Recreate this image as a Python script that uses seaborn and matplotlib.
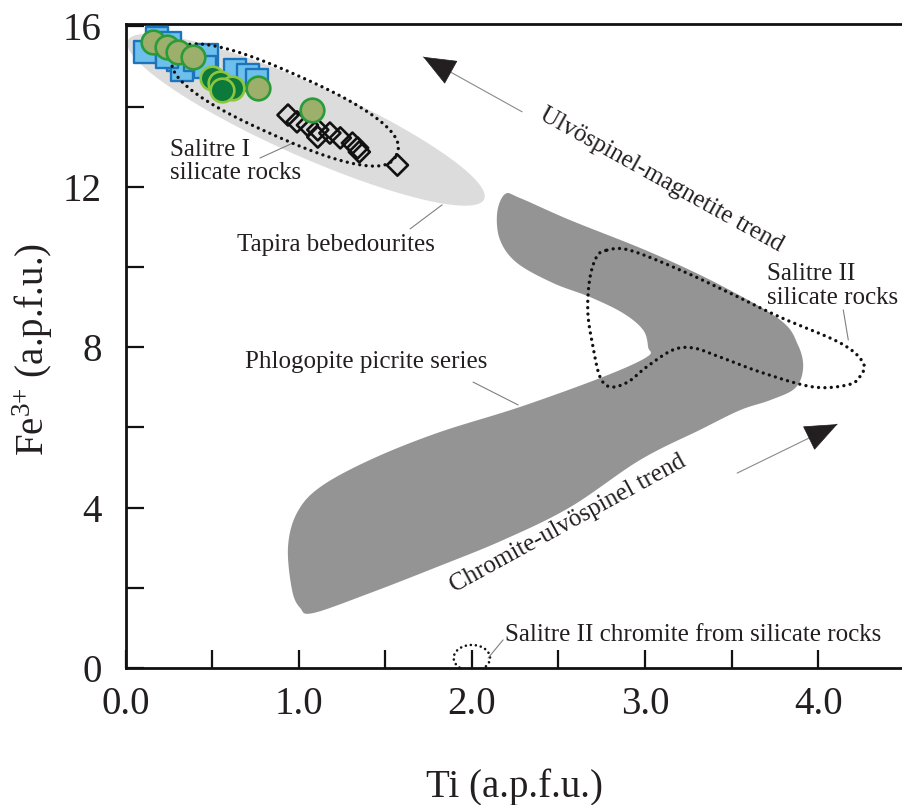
import numpy as np
import pandas as pd
import matplotlib
matplotlib.use("Agg")
import matplotlib.pyplot as plt
from matplotlib.patches import Polygon, Ellipse
import seaborn as sns

# ---------------- data ----------------
blue_ti = [0.112, 0.181, 0.256, 0.303, 0.326, 0.401, 0.470, 0.459, 0.632, 0.707, 0.759, 0.239]
blue_fe = [15.36, 15.71, 15.59, 15.16, 14.91, 15.16, 15.29, 14.99, 14.91, 14.79, 14.66, 15.24]

olive_ti = [0.159, 0.239, 0.303, 0.390, 0.765, 1.078]
olive_fe = [15.61, 15.49, 15.36, 15.24, 14.46, 13.92]

dkgreen_ti = [0.500, 0.546, 0.615, 0.557]
dkgreen_fe = [14.71, 14.59, 14.46, 14.41]

diam_ti = [0.938, 0.99, 1.05, 1.11, 1.11, 1.18, 1.24, 1.31, 1.34, 1.35, 1.57]
diam_fe = [13.79, 13.62, 13.54, 13.42, 13.24, 13.34, 13.22, 13.09, 12.97, 12.87, 12.54]

# Phlogopite picrite series field outline
picrite_ti = [2.192, 2.278, 2.567, 3.030, 3.434, 3.781, 3.884, 3.913, 3.867, 3.723, 3.549, 3.318,
              2.972, 2.567, 2.180, 1.799, 1.412, 1.083, 1.008, 0.961, 0.938, 0.990, 1.123, 1.412,
              1.799, 2.278, 2.758, 3.012, 3.018, 2.989, 2.873, 2.683, 2.469, 2.261, 2.163, 2.146]
picrite_fe = [11.82, 11.72, 11.17, 10.37, 9.55, 8.68, 8.05, 7.48, 6.98, 6.68, 6.43, 5.94,
              5.19, 4.01, 3.19, 2.52, 1.87, 1.37, 1.50, 1.95, 3.02, 3.87, 4.51, 5.19,
              5.86, 6.51, 7.26, 7.76, 8.00, 8.43, 8.85, 9.25, 9.60, 10.10, 10.67, 11.35]

# Salitre II silicate rocks field outline
sal2_ti = [2.78, 2.91, 3.20, 3.49, 3.78, 4.13, 4.26, 4.24, 4.17, 3.97, 3.68, 3.43, 3.28, 3.16,
           3.01, 2.90, 2.80, 2.74, 2.70, 2.67, 2.68, 2.72]
sal2_fe = [10.42, 10.42, 9.93, 9.35, 8.75, 8.10, 7.61, 7.26, 7.06, 7.01, 7.36, 7.76, 7.98, 7.93,
           7.51, 7.13, 7.01, 7.26, 8.00, 8.85, 9.68, 10.25]

# Elliptical fields: centre (Ti, Fe3+)
tapira_center = (1.042, 13.67)
salitre1_center = (0.921, 14.04)
chromite_center = (2.0, 0.25)

x_ticks = [0, 1, 2, 3, 4]
x_labels = ["0.0", "1.0", "2.0", "3.0", "4.0"]
y_ticks = [0, 4, 8, 12, 16]
y_labels = ["0", "4", "8", "12", "16"]

# ---------------- style ----------------
sns.set_theme(style="ticks")
plt.rcParams["font.family"] = ["Liberation Serif", "DejaVu Serif"]
plt.rcParams["mathtext.fontset"] = "custom"
plt.rcParams["mathtext.rm"] = "Liberation Serif"
plt.rcParams["mathtext.default"] = "regular"

W, H = 903, 805
fig = plt.figure(figsize=(W / 100, H / 100), dpi=100)
ax = fig.add_axes([125.6 / W, 137 / H, (W - 125.6) / W, 644 / H])
XMAX, YMAX = 4.49, 16.06
ax.set_xlim(0, XMAX)
ax.set_ylim(0, YMAX)
SX = (W - 125.6) / XMAX   # px per Ti unit
SY = 644 / YMAX           # px per Fe unit


def smooth_closed(x, y, n=14):
    P = np.column_stack([x, y])
    N = len(P)
    out = []
    t = np.linspace(0, 1, n, endpoint=False)[:, None]
    for i in range(N):
        p0, p1, p2, p3 = P[i - 1], P[i], P[(i + 1) % N], P[(i + 2) % N]
        pts = 0.5 * ((2 * p1) + (-p0 + p2) * t + (2 * p0 - 5 * p1 + 4 * p2 - p3) * t ** 2
                     + (-p0 + 3 * p1 - 3 * p2 + p3) * t ** 3)
        out.append(pts)
    return np.vstack(out)


def superellipse(center, a, b, ang, n=2.0, m=240):
    t = np.linspace(0, 2 * np.pi, m)
    c, s = np.cos(t), np.sin(t)
    u = a * np.sign(c) * np.abs(c) ** (2 / n)
    v = b * np.sign(s) * np.abs(s) ** (2 / n)
    th = np.deg2rad(ang)
    X = u * np.cos(th) - v * np.sin(th)
    Y = u * np.sin(th) + v * np.cos(th)
    return np.column_stack([center[0] + X / SX, center[1] + Y / SY])


dot_ls = (0, (0.01, 1.9))

# Tapira bebedourites (light grey)
ax.add_patch(Polygon(superellipse(tapira_center, 195, 36, -24), closed=True,
                     facecolor="#dcdcdc", edgecolor="none", zorder=1))
# Phlogopite picrite series (dark grey)
ax.add_patch(Polygon(smooth_closed(picrite_ti, picrite_fe), closed=True,
                     facecolor="#949494", edgecolor="none", zorder=1.5))
# Salitre II dotted field
ax.add_patch(Polygon(smooth_closed(sal2_ti, sal2_fe), closed=True, facecolor="none",
                     edgecolor="#111111", lw=2.4, linestyle=dot_ls, capstyle="round", zorder=2))
# small dotted ellipse (chromite)
ax.add_patch(Ellipse(chromite_center, 0.21, 0.65, facecolor="none", edgecolor="#111111",
                     lw=1.9, linestyle=dot_ls, capstyle="round", zorder=2))

# markers
sns.scatterplot(x=blue_ti, y=blue_fe, marker="s", s=235, color="#6dc0ec",
                edgecolor="#1c74bc", linewidth=1.7, ax=ax, zorder=3)
sns.scatterplot(x=diam_ti, y=diam_fe, marker="D", s=115, color="#ffffff",
                edgecolor="#111111", linewidth=1.9, ax=ax, zorder=3)
ax.collections[-1].set_facecolor("none")

# Salitre I dotted ellipse
ax.add_patch(Polygon(superellipse(salitre1_center, 122, 32, -24, n=2.5), closed=True,
                     facecolor="none", edgecolor="#111111", lw=2.4, linestyle=dot_ls,
                     capstyle="round", zorder=3.5))

sns.scatterplot(x=olive_ti, y=olive_fe, marker="o", s=290, color="#9caf6b",
                edgecolor="#2a9a3a", linewidth=1.9, ax=ax, zorder=4)
sns.scatterplot(x=dkgreen_ti, y=dkgreen_fe, marker="o", s=290, color="#0c7a3a",
                edgecolor="#8cc63e", linewidth=1.9, ax=ax, zorder=4)

# ---------------- annotations ----------------
tc = "#231f20"
lead = dict(color="#808080", lw=0.8, zorder=2.5)
fs = 18

ax.text(0.256, 12.63, "Salitre I\nsilicate rocks", fontsize=fs, color=tc, ha="left",
        va="center", linespacing=1.1, zorder=5)
ax.plot([(260 - 125.6) / SX, (293 - 125.6) / SX], [(668 - 158) / SY, (668 - 143) / SY], **lead)

ax.text(0.645, 10.55, "Tapira bebedourites", fontsize=fs, color=tc, ha="left", va="center", zorder=5)
ax.plot([1.643, 1.828], [10.95, 11.55], **lead)

ax.text(0.690, 7.63, "Phlogopite picrite series", fontsize=fs, color=tc, ha="left", va="center", zorder=5)
ax.plot([2.007, 2.267], [7.13, 6.56], **lead)

ax.text(3.705, 9.53, "Salitre II\nsilicate rocks", fontsize=fs, color=tc, ha="left",
        va="center", linespacing=1.1, zorder=5)
ax.plot([4.145, 4.174], [8.93, 8.18], **lead)

ax.text(2.192, 0.82, "Salitre II chromite from silicate rocks", fontsize=fs, color=tc,
        ha="left", va="center", zorder=5)
ax.plot([2.18, 2.094], [0.70, 0.25], **lead)

ax.text(3.094, 12.17, "Ulvöspinel-magnetite trend", fontsize=fs, color=tc, rotation=-29,
        rotation_mode="anchor", ha="center", va="center", zorder=5)
ax.text(2.556, 3.59, "Chromite-ulvöspinel trend", fontsize=fs, color=tc, rotation=28.7,
        rotation_mode="anchor", ha="center", va="center", zorder=5)


def trend_arrow(tail, tip):
    tail = np.array(tail)
    tip = np.array(tip)
    ax.plot([tail[0], tip[0]], [tail[1], tip[1]], color="#8a8a8a", lw=0.8, zorder=4)
    back = tip + (tail - tip) * 0.05
    ax.annotate("", xy=tip, xytext=back,
                arrowprops=dict(arrowstyle="-|>,head_length=1.1,head_width=0.45",
                                mutation_scale=20, fc="#231f20", ec="#231f20", lw=0.5,
                                shrinkA=0, shrinkB=0), zorder=5)


trend_arrow((2.290, 13.87), (1.719, 15.24))
trend_arrow((3.532, 4.86), (4.111, 6.08))

# ---------------- axes ----------------
ax.set_xticks(x_ticks)
ax.set_xticklabels(x_labels)
ax.set_yticks(y_ticks)
ax.set_yticklabels(y_labels)
ax.set_xticks([0.5, 1.5, 2.5, 3.5], minor=True)
ax.set_yticks([2, 6, 10, 14], minor=True)
ax.tick_params(which="both", direction="in", length=13, width=1.6, color="#111111")
ax.tick_params(axis="x", which="major", pad=13, labelsize=28, labelcolor=tc)
ax.tick_params(axis="y", which="major", pad=17, labelsize=28, labelcolor=tc)
ax.tick_params(top=False, right=False)
for side in ["left", "bottom", "top"]:
    ax.spines[side].set_linewidth(2.0)
    ax.spines[side].set_color("#111111")
ax.spines["right"].set_visible(False)

ax.set_xlabel("Ti (a.p.f.u.)", fontsize=28, color=tc)
ax.xaxis.set_label_coords(0.5, -0.156)
ax.set_ylabel("Fe$^{3{+}}$ (a.p.f.u.)", fontsize=28, color=tc)
ax.yaxis.set_label_coords(-0.091, 0.494)

fig.savefig("out.png", dpi=100)
